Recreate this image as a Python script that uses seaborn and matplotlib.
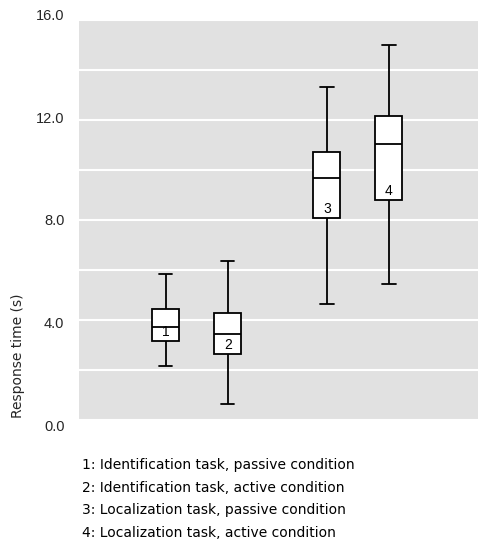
import matplotlib
matplotlib.use("Agg")
import matplotlib.pyplot as plt
import matplotlib.transforms as mtransforms
import numpy as np
import pandas as pd
import seaborn as sns

# Box summaries per condition: lower whisker, Q1, median, Q3, upper whisker (s)
CONDITIONS = ["1", "2", "3", "4"]
WHISKER_LOW = [2.17, 0.63, 4.64, 5.43]
Q1 = [3.16, 2.64, 8.07, 8.80]
MEDIAN = [3.71, 3.45, 9.67, 11.05]
Q3 = [4.43, 4.29, 10.73, 12.17]
WHISKER_HIGH = [5.84, 6.36, 13.30, 15.01]
POSITIONS = [1.4, 2.4, 4.0, 5.0]

LEGEND_LINES = [
    "1: Identification task, passive condition",
    "2: Identification task, active condition",
    "3: Localization task, passive condition",
    "4: Localization task, active condition",
]
YTICKS = [0.0, 4.0, 8.0, 12.0, 16.0]


def main() -> None:
    sns.set_style("darkgrid", {"axes.facecolor": "#e1e1e1", "grid.color": "white"})
    plt.rcParams["font.family"] = ["Liberation Sans", "DejaVu Sans"]

    # five points per box reproduce the quartiles exactly; whiskers span min..max
    rows = []
    for pos, lo, a, m, b, hi in zip(POSITIONS, WHISKER_LOW, Q1, MEDIAN, Q3, WHISKER_HIGH):
        for v in (lo, a, m, b, hi):
            rows.append({"pos": pos, "rt": v})
    df = pd.DataFrame(rows)

    fig = plt.figure(figsize=(4.8, 5.46), dpi=100)
    ax = fig.add_axes([0.1646, 0.2308, 0.8312, 0.7326])

    sns.boxplot(
        data=df, x="pos", y="rt", native_scale=True, whis=(0, 100),
        width=0.435, color="white", linecolor="black", linewidth=1.3,
        fill=True, ax=ax,
    )
    for patch in ax.patches:
        patch.set_facecolor("white")

    for pos, a, lab in zip(POSITIONS, Q1, CONDITIONS):
        ax.annotate(lab, (pos, a), xytext=(0, 3.5), textcoords="offset points",
                    ha="center", va="baseline", fontsize=10, color="black")

    ax.set_xlim(0, 6.44)
    ax.set_ylim(0, 16)
    ax.set_xticks([])
    ax.set_yticks(YTICKS)
    ax.set_yticks(np.arange(2, 16, 4), minor=True)
    ax.set_yticklabels([f"{t:.1f}" for t in YTICKS], fontsize=10.5)
    ax.grid(True, which="both", axis="y", color="white", linewidth=1.5)
    ax.grid(False, axis="x")
    ax.set_axisbelow(True)
    ax.tick_params(axis="y", which="both", length=0, pad=10.5)
    # tick labels sit slightly spread out relative to the grid in the original
    for t, lab in zip(YTICKS, ax.get_yticklabels()):
        dy = (t - 8.0) * 0.7 / 72.0 * 0.72
        lab.set_transform(lab.get_transform()
                          + mtransforms.ScaledTranslation(0, dy, fig.dpi_scale_trans))
    ax.set_xlabel("")
    ax.set_ylabel("Response time (s)", fontsize=10, family=["DejaVu Sans"],
                  ha="center", va="center")
    ax.yaxis.set_label_coords(-0.153, 0.16)
    for s in ax.spines.values():
        s.set_visible(False)

    for i, line in enumerate(LEGEND_LINES):
        fig.text(82 / 480, 1 - (465 + 22.7 * i) / 546, line, fontsize=10,
                 family=["DejaVu Sans"], ha="left", va="center", color="black")

    fig.savefig("out.png", dpi=100)


if __name__ == "__main__":
    main()
